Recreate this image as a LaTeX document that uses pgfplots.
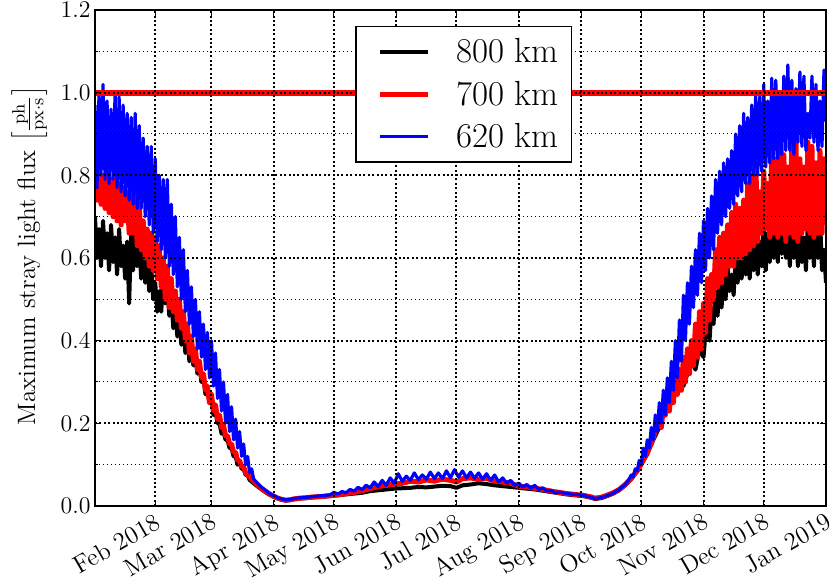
\documentclass[border=0pt]{standalone}
\usepackage{pgfplots}
\pgfplotsset{compat=1.18}
\begin{document}
\begin{tikzpicture}
\begin{axis}[
  scale only axis, width=365.5bp, height=248bp,
  xmin=1, xmax=365, ymin=0, ymax=1.2,
  axis on top,
  xtick={31,59,90,120,151,181,212,243,273,304,334,365},
  xticklabels={Feb 2018,Mar 2018,Apr 2018,May 2018,Jun 2018,Jul 2018,Aug 2018,Sep 2018,Oct 2018,Nov 2018,Dec 2018,Jan 2019},
  xticklabel style={rotate=30, anchor=north east, font=\fontsize{12.5}{14}\selectfont, inner sep=2bp},
  ytick={0,0.2,0.4,0.6,0.8,1.0,1.2},
  minor ytick={0.1,0.3,0.5,0.7,0.9,1.1},
  /pgf/number format/fixed, /pgf/number format/fixed zerofill, /pgf/number format/precision=1,
  yticklabel style={font=\fontsize{12.5}{14}\selectfont, inner sep=2bp},
  grid=both,
  major grid style={black, line width=1bp, dash pattern=on 1bp off 1.2bp},
  minor grid style={black, line width=0.5bp, dash pattern=on 0.5bp off 1.5bp},
  tick align=inside, major tick length=3bp, minor tick length=1.5bp,
  tick style={black, line width=0.5bp},
  axis line style={line width=0.6bp},
  ylabel={Maximum stray light flux $\left[\frac{\mathrm{ph}}{\mathrm{px}\cdot\mathrm{s}}\right]$},
  ylabel style={at={(axis description cs:-0.09,0.504)}, anchor=center, font=\fontsize{12.6}{14}\selectfont},
  legend style={at={(0.356,0.968)}, anchor=north west, font=\fontsize{17.5}{20}\selectfont,
    draw=black, line width=0.8bp, inner xsep=4.5bp, inner ysep=4bp, row sep=3.5bp, cells={anchor=west}},
  legend image code/.code={\path (-6bp,0bp); \draw[#1] (0bp,0bp) -- (24bp,0bp); \path (35bp,0bp);},
  every axis plot/.append style={line join=round},
]
\addplot[black, line width=2bp] coordinates {(1,0.70)(2,0.60)(3,0.67)(4,0.58)(5,0.69)(6,0.60)(7,0.66)(8,0.57)(9,0.68)(10,0.59)(11,0.65)(12,0.56)(13,0.67)(14,0.58)(15,0.63)(16,0.55)(17,0.64)(18,0.49)(19,0.66)(20,0.57)(21,0.70)(22,0.58)(23,0.64)(24,0.55)(25,0.62)(26,0.54)(27,0.60)(28,0.52)(29,0.58)(30,0.50)(31,0.54)(32,0.47)(33,0.52)(34,0.47)(35,0.56)(36,0.49)(37,0.53)(38,0.46)(39,0.50)(40,0.43)(41,0.48)(42,0.41)(43,0.45)(44,0.39)(45,0.43)(46,0.37)(47,0.41)(48,0.35)(49,0.38)(50,0.34)(51,0.36)(52,0.32)(53,0.34)(54,0.30)(55,0.31)(56,0.27)(57,0.28)(58,0.25)(59,0.26)(60,0.22)(61,0.23)(62,0.20)(63,0.20)(64,0.175)(65,0.18)(66,0.16)(67,0.16)(68,0.14)(69,0.14)(70,0.12)(71,0.12)(72,0.10)(73,0.105)(74,0.09)(75,0.09)(76,0.075)(77,0.075)(78,0.063)(80,0.055)(82,0.047)(84,0.04)(86,0.033)(88,0.027)(90,0.022)(92,0.018)(94,0.015)(96,0.013)(98,0.014)(100,0.016)(103,0.018)(106,0.019)(110,0.021)(114,0.022)(118,0.024)(122,0.026)(126,0.028)(130,0.030)(134,0.032)(138,0.036)(142,0.038)(146,0.040)(150,0.042)(154,0.043)(158,0.044)(162,0.046)(166,0.045)(170,0.047)(174,0.049)(178,0.048)(181,0.044)(184,0.050)(188,0.052)(192,0.055)(196,0.053)(200,0.050)(204,0.048)(208,0.046)(212,0.044)(216,0.042)(220,0.040)(224,0.037)(228,0.034)(232,0.031)(236,0.028)(240,0.026)(244,0.024)(248,0.020)(250,0.017)(253,0.019)(256,0.024)(259,0.030)(262,0.038)(265,0.050)(268,0.065)(271,0.085)(274,0.11)(276,0.125)(278,0.15)(280,0.17)(282,0.19)(284,0.22)(286,0.24)(288,0.26)(290,0.28)(292,0.31)(294,0.29)(296,0.32)(298,0.35)(300,0.33)(302,0.38)(304,0.36)(305,0.42)(306,0.44)(307,0.40)(308,0.48)(309,0.44)(310,0.52)(311,0.46)(312,0.54)(313,0.48)(314,0.56)(315,0.50)(316,0.58)(317,0.52)(318,0.56)(319,0.51)(320,0.60)(321,0.54)(322,0.62)(323,0.55)(324,0.64)(325,0.56)(326,0.62)(327,0.55)(328,0.63)(329,0.57)(330,0.67)(331,0.56)(332,0.64)(333,0.58)(334,0.69)(335,0.57)(336,0.66)(337,0.59)(338,0.70)(339,0.60)(340,0.68)(341,0.59)(342,0.72)(343,0.61)(344,0.70)(345,0.60)(346,0.66)(347,0.58)(348,0.68)(349,0.60)(350,0.69)(351,0.58)(352,0.67)(353,0.59)(354,0.65)(355,0.57)(356,0.69)(357,0.60)(358,0.66)(359,0.58)(360,0.72)(361,0.60)(362,0.70)(363,0.57)(364,0.62)(365,0.54)};
\addlegendentry{800 km}
\addplot[red, line width=2.5bp] coordinates {(1,0.86)(2,0.74)(3,0.83)(4,0.73)(5,0.80)(6,0.72)(7,0.81)(8,0.71)(9,0.79)(10,0.70)(11,0.80)(12,0.69)(13,0.78)(14,0.68)(15,0.77)(16,0.69)(17,0.76)(18,0.66)(19,0.78)(20,0.66)(21,0.77)(22,0.63)(23,0.74)(24,0.62)(25,0.69)(26,0.60)(27,0.67)(28,0.58)(29,0.66)(30,0.57)(31,0.65)(32,0.55)(33,0.63)(34,0.53)(35,0.60)(36,0.50)(37,0.58)(38,0.48)(39,0.55)(40,0.47)(41,0.52)(42,0.45)(43,0.50)(44,0.43)(45,0.47)(46,0.40)(47,0.44)(48,0.37)(49,0.41)(50,0.35)(51,0.38)(52,0.33)(53,0.35)(54,0.31)(55,0.32)(56,0.28)(57,0.29)(58,0.25)(59,0.27)(60,0.23)(61,0.245)(62,0.21)(63,0.22)(64,0.19)(65,0.195)(66,0.17)(67,0.17)(68,0.15)(69,0.15)(70,0.13)(71,0.13)(72,0.11)(73,0.11)(74,0.095)(75,0.095)(76,0.08)(78,0.07)(80,0.06)(82,0.05)(84,0.042)(86,0.035)(88,0.029)(90,0.024)(92,0.019)(94,0.016)(96,0.014)(98,0.015)(100,0.017)(103,0.019)(106,0.02)(110,0.022)(114,0.023)(118,0.025)(122,0.027)(126,0.03)(130,0.033)(134,0.037)(138,0.042)(142,0.047)(146,0.05)(150,0.053)(154,0.055)(158,0.06)(162,0.058)(166,0.063)(170,0.06)(174,0.065)(178,0.062)(181,0.058)(184,0.066)(188,0.068)(192,0.064)(196,0.067)(200,0.060)(204,0.058)(208,0.055)(212,0.048)(216,0.046)(220,0.043)(224,0.040)(228,0.036)(232,0.033)(236,0.030)(240,0.028)(244,0.026)(248,0.022)(250,0.019)(253,0.021)(256,0.026)(259,0.032)(262,0.04)(265,0.052)(268,0.067)(271,0.085)(274,0.11)(276,0.13)(278,0.15)(280,0.18)(282,0.21)(283,0.19)(284,0.24)(285,0.22)(286,0.26)(287,0.23)(288,0.29)(289,0.25)(290,0.31)(291,0.27)(292,0.33)(293,0.28)(294,0.36)(295,0.30)(296,0.38)(297,0.32)(298,0.40)(299,0.34)(300,0.44)(301,0.36)(302,0.47)(303,0.38)(304,0.49)(305,0.42)(306,0.55)(307,0.45)(308,0.56)(309,0.50)(310,0.62)(311,0.53)(312,0.65)(313,0.54)(314,0.66)(315,0.56)(316,0.68)(317,0.58)(318,0.71)(319,0.58)(320,0.73)(321,0.60)(322,0.72)(323,0.60)(324,0.74)(325,0.61)(326,0.78)(327,0.62)(328,0.80)(329,0.63)(330,0.84)(331,0.64)(332,0.76)(333,0.66)(334,0.81)(335,0.67)(336,0.78)(337,0.65)(338,0.86)(339,0.66)(340,0.84)(341,0.65)(342,0.87)(343,0.66)(344,0.85)(345,0.64)(346,0.82)(347,0.66)(348,0.88)(349,0.65)(350,0.89)(351,0.64)(352,0.84)(353,0.66)(354,0.82)(355,0.67)(356,0.88)(357,0.66)(358,0.87)(359,0.65)(360,0.83)(361,0.66)(362,0.86)(363,0.66)(364,0.84)(365,0.68)};
\addlegendentry{700 km}
\addplot[blue, line width=1.6bp] coordinates {(1,0.97)(2,0.77)(3,1.0)(4,0.80)(5,1.02)(6,0.79)(7,0.98)(8,0.78)(9,0.96)(10,0.79)(11,1.0)(12,0.77)(13,0.99)(14,0.76)(15,0.97)(16,0.75)(17,0.95)(18,0.74)(19,0.94)(20,0.73)(21,0.95)(22,0.72)(23,0.92)(24,0.72)(25,0.89)(26,0.70)(27,0.87)(28,0.68)(29,0.87)(30,0.66)(31,0.84)(32,0.64)(33,0.80)(34,0.62)(35,0.79)(36,0.60)(37,0.79)(38,0.58)(39,0.73)(40,0.56)(41,0.70)(42,0.53)(43,0.65)(44,0.50)(45,0.62)(46,0.47)(47,0.57)(48,0.44)(49,0.53)(50,0.41)(51,0.50)(52,0.38)(53,0.47)(54,0.36)(55,0.44)(56,0.33)(57,0.42)(58,0.31)(59,0.40)(60,0.29)(61,0.37)(62,0.26)(63,0.33)(64,0.23)(65,0.30)(66,0.20)(67,0.27)(68,0.18)(69,0.24)(70,0.16)(71,0.21)(72,0.14)(73,0.18)(74,0.12)(75,0.15)(76,0.10)(77,0.12)(78,0.08)(79,0.09)(80,0.065)(82,0.055)(84,0.045)(86,0.038)(88,0.03)(90,0.025)(92,0.02)(94,0.017)(96,0.015)(98,0.016)(100,0.018)(103,0.02)(106,0.021)(110,0.023)(114,0.025)(118,0.027)(120,0.033)(122,0.029)(124,0.035)(126,0.032)(128,0.04)(130,0.036)(132,0.045)(134,0.04)(136,0.05)(138,0.044)(140,0.058)(142,0.047)(144,0.062)(146,0.05)(148,0.068)(150,0.055)(152,0.078)(154,0.06)(156,0.072)(158,0.062)(160,0.08)(162,0.064)(164,0.075)(166,0.065)(168,0.082)(170,0.066)(172,0.08)(174,0.066)(176,0.085)(178,0.068)(180,0.088)(182,0.07)(184,0.085)(186,0.068)(188,0.082)(190,0.067)(192,0.08)(194,0.065)(196,0.078)(198,0.062)(200,0.075)(202,0.058)(204,0.068)(206,0.055)(208,0.062)(210,0.05)(212,0.055)(214,0.046)(216,0.052)(218,0.043)(220,0.05)(222,0.04)(224,0.044)(226,0.036)(228,0.038)(230,0.032)(232,0.034)(236,0.03)(240,0.028)(244,0.026)(248,0.021)(250,0.018)(253,0.02)(256,0.025)(259,0.031)(262,0.04)(265,0.052)(267,0.065)(268,0.075)(269,0.07)(270,0.09)(271,0.085)(272,0.11)(273,0.10)(274,0.14)(275,0.12)(276,0.16)(277,0.14)(278,0.19)(279,0.16)(280,0.22)(281,0.18)(282,0.25)(283,0.20)(284,0.28)(285,0.22)(286,0.31)(287,0.25)(288,0.35)(289,0.28)(290,0.40)(291,0.31)(292,0.45)(293,0.35)(294,0.51)(295,0.40)(296,0.54)(297,0.44)(298,0.58)(299,0.48)(300,0.62)(301,0.51)(302,0.66)(303,0.54)(304,0.69)(305,0.57)(306,0.72)(307,0.60)(308,0.75)(309,0.62)(310,0.79)(311,0.66)(312,0.81)(313,0.68)(314,0.83)(315,0.70)(316,0.84)(317,0.72)(318,0.86)(319,0.73)(320,0.90)(321,0.75)(322,0.92)(323,0.76)(324,0.95)(325,0.78)(326,0.94)(327,0.78)(328,0.97)(329,0.80)(330,1.0)(331,0.80)(332,0.99)(333,0.81)(334,1.02)(335,0.82)(336,0.98)(337,0.83)(338,1.035)(339,0.84)(340,1.03)(341,0.84)(342,1.0)(343,0.85)(344,1.04)(345,0.86)(346,1.067)(347,0.86)(348,1.03)(349,0.85)(350,1.01)(351,0.88)(352,1.05)(353,0.87)(354,1.04)(355,0.86)(356,0.95)(357,0.89)(358,1.04)(359,0.88)(360,1.02)(361,0.86)(362,0.98)(363,0.87)(364,1.055)(365,0.93)};
\addlegendentry{620 km}
\addplot[red, line width=3bp, forget plot] coordinates {(1,1.0)(365,1.0)};
\end{axis}
\pgfresetboundingbox
\path[use as bounding box] ([shift={(-47.5bp,-39bp)}]current axis.south west) rectangle ([shift={(2bp,5bp)}]current axis.north east);
\end{tikzpicture}
\end{document}
